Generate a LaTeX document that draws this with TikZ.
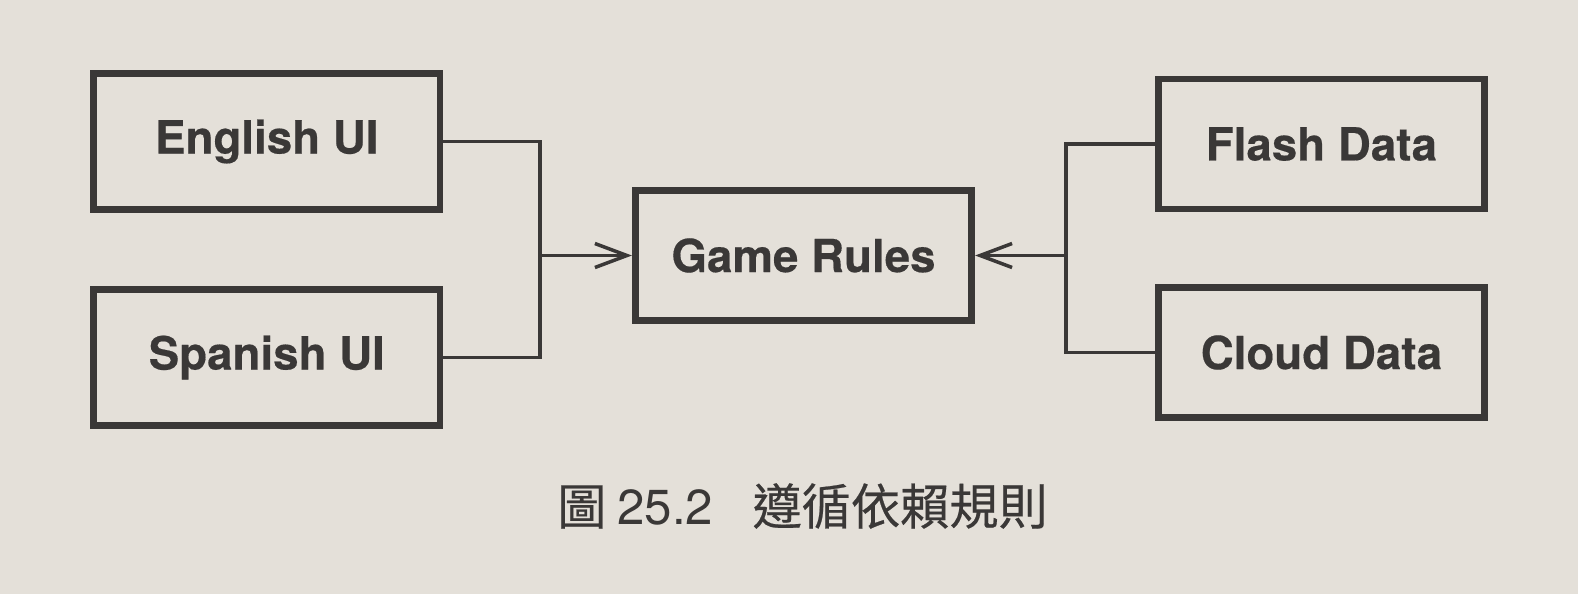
\documentclass[tikz,border=0pt]{standalone}
\usepackage{fontspec}
\setsansfont{TeX Gyre Heros}[BoldFeatures={FakeBold=0.35}]
\newfontfamily\cjk{Noto Sans CJK TC}[FakeBold=0.4]
\newfontfamily\capdigits{TeX Gyre Heros}
\usepackage{tikz}
\usetikzlibrary{arrows.meta,positioning}
\definecolor{paper}{HTML}{E4E0D9}
\definecolor{ink}{HTML}{3A3837}

\begin{document}
\begin{tikzpicture}[
      uibox/.style={draw=ink, line width=3.8pt, minimum width=6.93cm, minimum height=2.71cm, text=ink, font=\sffamily\bfseries\fontsize{26}{30}\selectfont},
      rulebox/.style={uibox, minimum width=6.73cm, minimum height=2.61cm},
      databox/.style={uibox, minimum width=6.52cm, minimum height=2.60cm},
      link/.style={draw=ink, line width=2pt},
      arrow/.style={link, -{Straight Barb[length=6.4mm, width=4.8mm, line width=2pt]}},
      caption/.style={text=ink, font=\cjk\fontsize{28}{32}\selectfont}
    ]
    \fill[paper] (0,0) rectangle (31.56,11.88);
    \useasboundingbox (0,0) rectangle (31.56,11.88);
    \node[rulebox] (rules) at (16.07,6.77) {Game Rules};
    \node[uibox, left=3.77cm of rules, yshift=2.28cm] (english) {English UI};
    \node[uibox, left=3.77cm of rules, yshift=-2.04cm] (spanish) {Spanish UI};
    \node[databox, right=3.60cm of rules, yshift=2.23cm] (flash) {Flash Data};
    \node[databox, right=3.60cm of rules, yshift=-1.94cm] (cloud) {Cloud Data};
    \coordinate[left=1.84cm of rules.west] (ljoin);
    \coordinate[right=1.82cm of rules.east] (rjoin);
    \draw[link] (english.east) -| (ljoin) |- (spanish.east);
    \draw[link] (flash.west) -| (rjoin) |- (cloud.west);
    \draw[arrow] (ljoin) -- (rules.west);
    \draw[arrow] (rjoin) -- (rules.east);
    \node[caption] (figcap) at (16.05,1.76) {圖 {\capdigits 25.2}\hspace{0.8em}遵循依賴規則};
  \end{tikzpicture}
\end{document}
